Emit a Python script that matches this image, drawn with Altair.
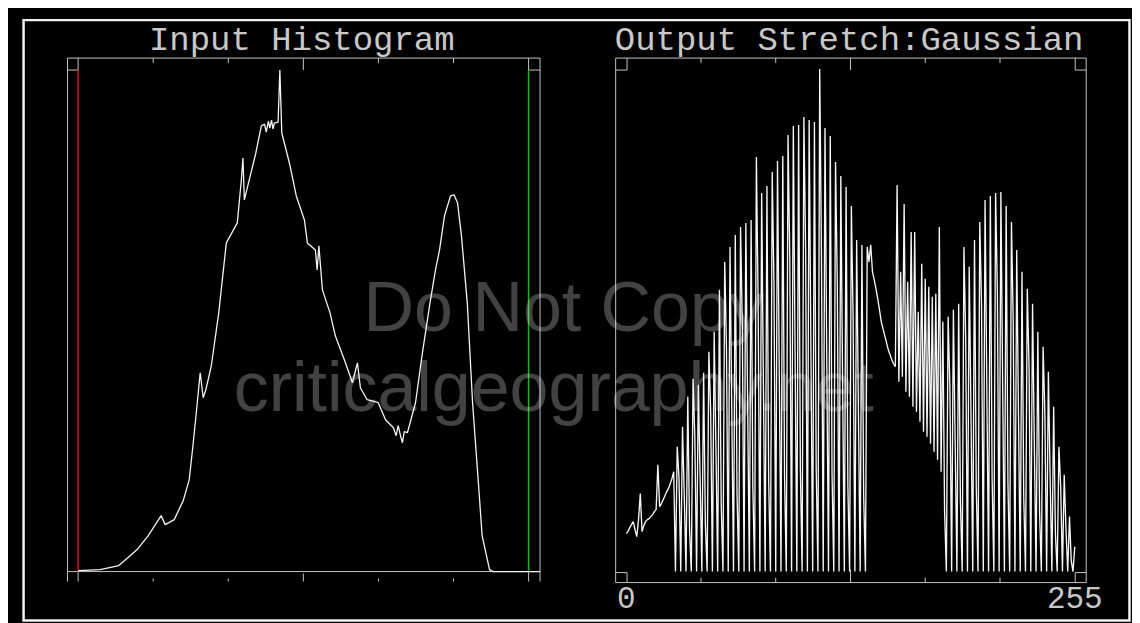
import altair as alt
import pandas as pd

# ---------------- data ----------------
# Input histogram (left panel): grey level on the 0-255 stretch scale, frequency (arbitrary units)
in_level = [0, 12.5, 23, 28.3, 33.4, 39.7, 47, 49.3, 54.4, 59.5,
            62.9, 65, 66.9, 69.1, 70.8, 72.3, 75.4, 79.6, 83.9, 90.1,
            92.4, 93.3, 94.1, 100.6, 103.7, 105.5, 106.5, 107.7, 108.5, 109.5,
            110.3, 111.1, 113.2, 114.2, 115.3, 119.6, 123.5, 128.1, 129.8, 134.3,
            135.3, 136.3, 138.3, 142.6, 145.6, 150.7, 155.3, 158.1, 159.8, 163.6,
            169.9, 174, 178.5, 180, 181.2, 182.5, 183.6, 184.6, 186.4, 191,
            194.9, 199.2, 202.3, 204.6, 207.4, 210.8, 212.9, 214.8, 217, 220.3,
            223.3, 226.7, 228.7, 232.9, 234.9, 261.5]
in_freq = [1, 2, 6, 14, 22, 36, 56, 47, 52, 71,
           92, 126, 159, 199, 174, 182, 206, 259, 329, 349,
           392, 414, 372, 419, 446, 448, 440, 451, 444, 452,
           443, 449, 450, 502, 439, 409, 376, 352, 329, 322,
           302, 326, 282, 259, 236, 212, 189, 209, 184, 172,
           169, 152, 144, 136, 146, 136, 129, 140, 139, 169,
           219, 269, 302, 322, 356, 376, 377, 369, 336, 269,
           169, 86, 36, 2, 0, 0]

# Output histogram after the Gaussian stretch (right panel): one value per output bin 0..255
out_freq = [38, 40, 44, 47, 50, 42, 35, 52, 78, 40,
            46, 50, 52, 53, 55, 57, 60, 62, 107, 65,
            68, 72, 76, 80, 83, 88, 93, 100, 0, 125,
            94, 0, 145, 76, 0, 175, 43, 0, 193, 135,
            0, 187, 95, 0, 199, 47, 0, 220, 161, 0,
            240, 125, 0, 282, 67, 0, 310, 224, 0, 325,
            162, 0, 337, 78, 0, 345, 246, 0, 349, 172,
            0, 352, 83, 0, 415, 268, 0, 379, 187, 0,
            386, 90, 0, 400, 287, 0, 411, 202, 0, 416,
            97, 0, 437, 312, 0, 446, 219, 0, 447, 104,
            0, 455, 322, 0, 452, 221, 0, 450, 104, 0,
            503, 316, 0, 444, 216, 0, 436, 99, 0, 410,
            288, 0, 396, 192, 0, 385, 87, 0, 366, 252,
            0, 332, 162, 0, 327, 75, 0, 325, 310, 327,
            300, 292, 283, 273, 262, 250, 243, 236, 229, 222,
            217, 212, 208, 205, 387, 190, 300, 195, 368, 180,
            290, 175, 340, 165, 340, 160, 260, 150, 308, 140,
            293, 135, 285, 128, 275, 120, 278, 112, 345, 100,
            250, 60, 0, 255, 185, 0, 262, 130, 0, 268,
            70, 0, 325, 233, 0, 305, 158, 0, 332, 85,
            0, 350, 266, 0, 372, 187, 0, 376, 94, 0,
            379, 280, 0, 380, 188, 0, 366, 90, 0, 350,
            252, 0, 322, 158, 0, 300, 74, 0, 283, 206,
            0, 268, 129, 0, 240, 59, 0, 225, 159, 0,
            200, 94, 0, 165, 38, 0, 125, 85, 0, 97,
            43, 0, 55, 11, 0, 25]
out_bin = list(range(len(out_freq)))

minor_ticks = [42.5, 85, 170, 212.5]
mid_tick = [127.5]
end_ticks = [0, 255]
end_labels = ["0", "255"]
stretch_min = [0]
stretch_max = [255]

titles = ["Input Histogram", "Output Stretch:Gaussian"]
watermark = ["Do Not Copy", "criticalgeography.net"]

# ---------------- layout ----------------
# the page is 1148 px wide with this chart and is shown scaled to 1140 px
K = 1148 / 1140


def s(v):
    return v * K


SVG_W, SVG_H = 1132, 620
OX, OY = s(67) - 8, s(55) - 8          # left view origin inside the svg
W_L, W_R, H = s(473), s(471), s(514)
X_DOMAIN = [-6, 261.5]
Y_DOMAIN = [0, 514]
BOX = "#c4c4c4"
TXT = "#c8c8c8"

one = pd.DataFrame({"k": [0]})


def xscale():
    return alt.Scale(domain=X_DOMAIN, nice=False, zero=False)


def yscale():
    return alt.Scale(domain=Y_DOMAIN, nice=False, zero=False)


def vline(x, y, y2, color=BOX, w=1.0):
    return alt.Chart(one).mark_rule(color=color, strokeWidth=w).encode(
        x=alt.value(s(x)), y=alt.value(s(y)), y2=alt.value(s(y2)))


def hline(x, x2, y, color=BOX, w=1.0):
    return alt.Chart(one).mark_rule(color=color, strokeWidth=w).encode(
        x=alt.value(s(x)), x2=alt.value(s(x2)), y=alt.value(s(y)))


def ticks(values, y, y2, color=BOX, w=1.0):
    return alt.Chart(pd.DataFrame({"t": values})).mark_rule(color=color, strokeWidth=w).encode(
        x=alt.X("t:Q", scale=xscale(), axis=None), y=alt.value(s(y)), y2=alt.value(s(y2)))


def text(txt, x, y, size, color=TXT, font="Liberation Mono", opacity=1.0):
    return alt.Chart(one).mark_text(
        text=txt, font=font, fontSize=s(size), color=color, align="center",
        baseline="alphabetic", opacity=opacity).encode(x=alt.value(s(x)), y=alt.value(s(y)))


# ---------- left panel: input histogram ----------
bg = alt.Chart(one).mark_rect(color="black").encode(
    x=alt.value(-OX), x2=alt.value(SVG_W - OX), y=alt.value(-OY), y2=alt.value(SVG_H - OY))
outer = alt.Chart(one).mark_rect(filled=False, stroke="#f2f2f2", strokeWidth=2.5).encode(
    x=alt.value(s(-44)), x2=alt.value(s(1063)), y=alt.value(s(-38)), y2=alt.value(s(563)))
boxL = alt.Chart(one).mark_rect(filled=False, stroke=BOX, strokeWidth=1).encode(
    x=alt.value(0), x2=alt.value(W_L), y=alt.value(0), y2=alt.value(H))

in_line = alt.Chart(pd.DataFrame({"level": in_level, "freq": in_freq})).mark_line(
    color="#f4f4f4", strokeWidth=1.3, strokeJoin="bevel").encode(
    x=alt.X("level:Q", scale=xscale(), axis=None),
    y=alt.Y("freq:Q", scale=yscale(), axis=None))

red = ticks(stretch_min, 12, 514, color="#c41212", w=1.6)
green = ticks(stretch_max, 12, 514, color="#14b814", w=1.6)

left = alt.layer(
    bg, outer, boxL,
    vline(0, 514, 524), vline(473, 514, 524),
    hline(0, 10.6, 12), vline(10.6, 0, 12),
    hline(461.5, 473, 12), vline(461.5, 0, 12),
    ticks(minor_ticks, 0, 5), ticks(mid_tick, 0, 12),
    ticks(minor_ticks, 521, 524), ticks(mid_tick, 516, 524),
    ticks(end_ticks, 514, 524),
    red, green, in_line,
    text(titles[0], 234.5, -8, 34),
).properties(width=W_L, height=H)

# ---------- right panel: output stretch ----------
BOT = 525
boxR = alt.Chart(one).mark_rect(filled=False, stroke=BOX, strokeWidth=1).encode(
    x=alt.value(0), x2=alt.value(W_R), y=alt.value(0), y2=alt.value(s(BOT)))

out_line = alt.Chart(pd.DataFrame({"bin": out_bin, "freq": out_freq})).mark_line(
    color="#f6f6f6", strokeWidth=1.35, strokeJoin="bevel").encode(
    x=alt.X("bin:Q", scale=xscale(), axis=None),
    y=alt.Y("freq:Q", scale=yscale(), axis=None))

labels = alt.Chart(pd.DataFrame({"t": end_ticks, "lab": end_labels})).mark_text(
    font="Liberation Mono", fontSize=s(31), color=TXT, align="center", baseline="alphabetic").encode(
    x=alt.X("t:Q", scale=xscale(), axis=None), y=alt.value(s(550)), text="lab:N")

right = alt.layer(
    boxR,
    vline(11.4, 0, 12), hline(0, 11.4, 12),
    vline(460, 0, 12), hline(460, 471, 12),
    hline(0, 11.4, 515), vline(11.4, 515, BOT),
    hline(460, 471, 515), vline(460, 515, BOT),
    ticks(minor_ticks, 0, 5), ticks(mid_tick, 0, 12),
    ticks(minor_ticks, BOT - 5, BOT), ticks(mid_tick, BOT - 13, BOT),
    text(watermark[0], -52, 273, 70, color="#ffffff", font="Liberation Sans", opacity=0.26),
    text(watermark[1], -62, 353, 70, color="#ffffff", font="Liberation Sans", opacity=0.26),
    out_line, labels,
    text(titles[1], 233.7, -8, 34),
).properties(width=W_R, height=H)

chart = alt.hconcat(
    left, right, spacing=s(75), bounds="flush", padding=0, background="black",
    autosize=alt.AutoSizeParams(type="pad"),
).resolve_scale(x="independent", y="independent").configure_view(strokeWidth=0)

chart.save("out.html", embed_options={"renderer": "svg", "actions": False})
